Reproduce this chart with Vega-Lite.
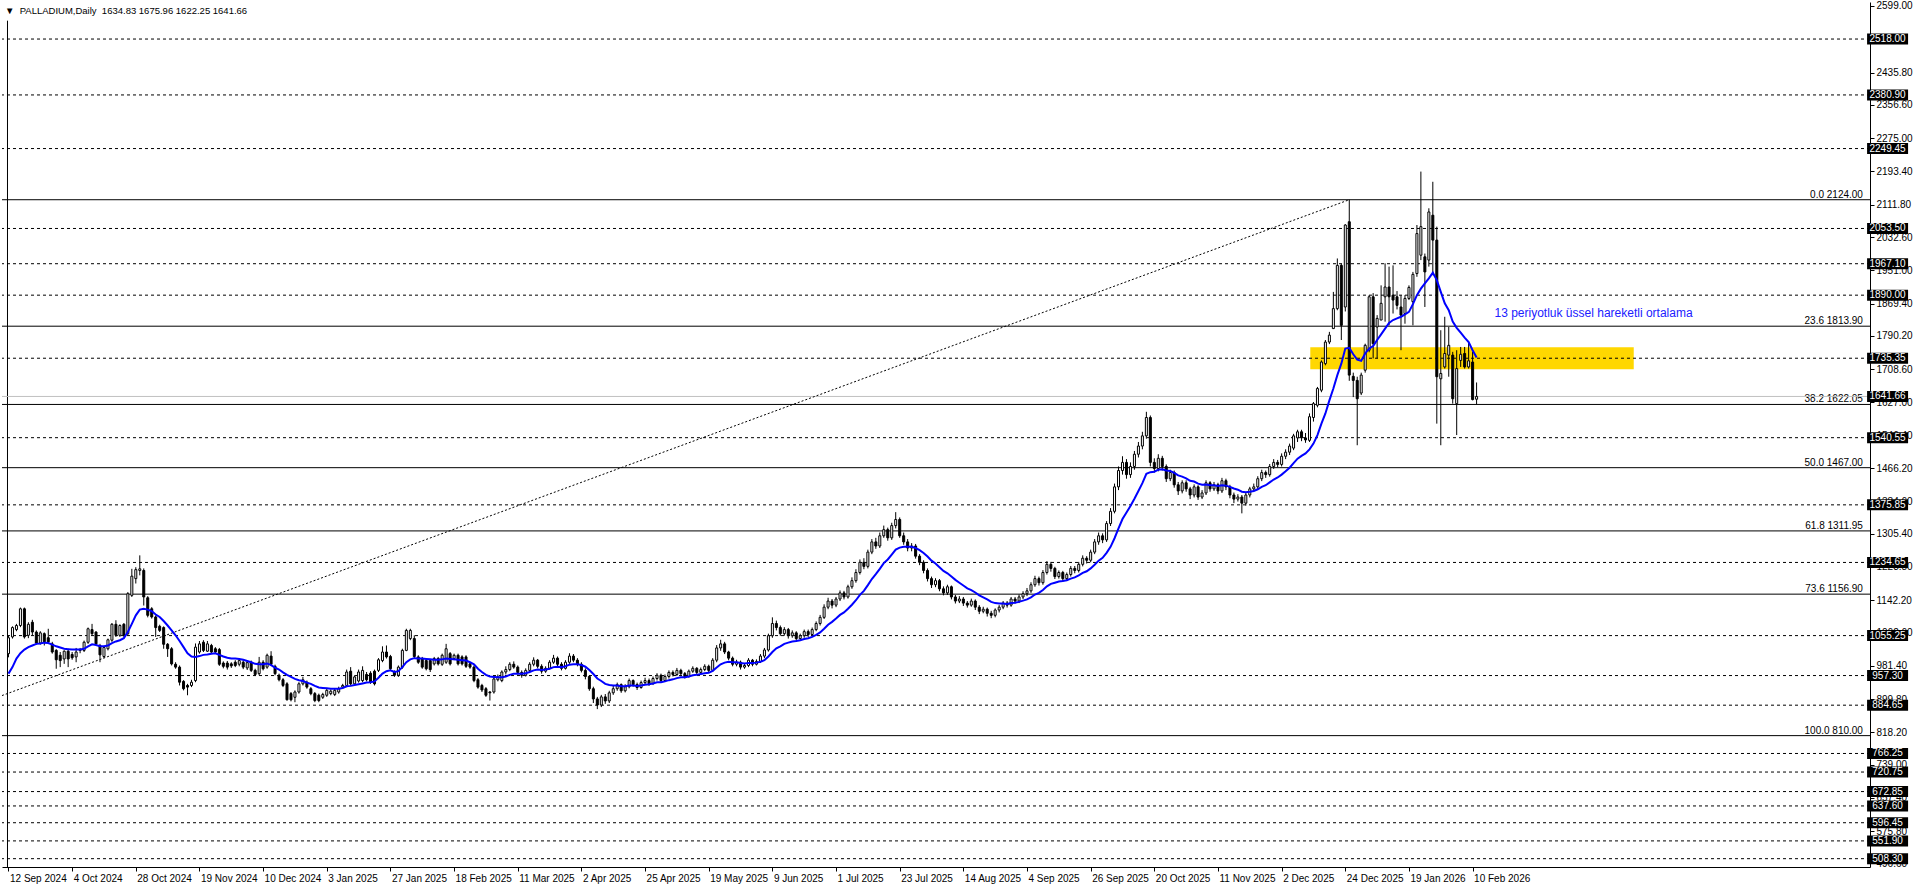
{
"$schema":"https://vega.github.io/schema/vega-lite/v6.json",
"width":1868,"height":865,
"autosize":{"type":"none"},
"padding":{"left":2,"top":2,"right":46,"bottom":21},
"background":"white",
"config":{"view":{"stroke":null},"font":"Liberation Sans"},
"title":{"text":"▼\u00a0\u00a0PALLADIUM,Daily\u00a0\u00a01634.83 1675.96 1622.25 1641.66","anchor":"start","frame":"group","orient":"top","offset":-13,"dx":3,"dy":10,"baseline":"alphabetic","fontSize":9.5,"font":"Liberation Sans","fontWeight":"normal","color":"black"},
"datasets":{
"bars":[
{"o":1011,"h":1056,"l":1002,"c":1050,"e":962},{"o":1052,"h":1078,"l":1048,"c":1075,"e":978},{"o":1070,"h":1084,"l":1066,"c":1080,"e":999},{"o":1080,"h":1124,"l":1076,"c":1121,"e":1012},{"o":1121,"h":1124,"l":1048,"c":1052,"e":1021},
{"o":1056,"h":1088,"l":1049,"c":1083,"e":1027},{"o":1088,"h":1094,"l":1056,"c":1064,"e":1031},{"o":1064,"h":1068,"l":1033,"c":1037,"e":1035},{"o":1037,"h":1066,"l":1033,"c":1062,"e":1036},{"o":1060,"h":1063,"l":1031,"c":1040,"e":1038},
{"o":1050,"h":1072,"l":1035,"c":1040,"e":1037},{"o":1035,"h":1040,"l":1011,"c":1015,"e":1033},{"o":1019,"h":1022,"l":974,"c":996,"e":1029},{"o":1007,"h":1015,"l":978,"c":994,"e":1026},{"o":998,"h":1019,"l":986,"c":1017,"e":1023},
{"o":1017,"h":1023,"l":978,"c":998,"e":1022},{"o":1009,"h":1015,"l":996,"c":1001,"e":1021},{"o":1003,"h":1025,"l":990,"c":1015,"e":1021},{"o":1021,"h":1025,"l":1012,"c":1019,"e":1021},{"o":1019,"h":1043,"l":1015,"c":1039,"e":1023},
{"o":1039,"h":1075,"l":1035,"c":1072,"e":1029},{"o":1070,"h":1084,"l":1056,"c":1060,"e":1034},{"o":1064,"h":1066,"l":1031,"c":1035,"e":1032},{"o":1031,"h":1035,"l":990,"c":1008,"e":1029},{"o":1004,"h":1030,"l":1000,"c":1026,"e":1029},
{"o":1023,"h":1048,"l":1019,"c":1045,"e":1031},{"o":1044,"h":1086,"l":1040,"c":1083,"e":1037},{"o":1083,"h":1093,"l":1052,"c":1056,"e":1041},{"o":1056,"h":1083,"l":1052,"c":1080,"e":1044},{"o":1083,"h":1086,"l":1052,"c":1056,"e":1049},
{"o":1060,"h":1162,"l":1056,"c":1158,"e":1064},{"o":1154,"h":1219,"l":1150,"c":1201,"e":1084},{"o":1195,"h":1223,"l":1183,"c":1217,"e":1105},{"o":1215,"h":1252,"l":1203,"c":1219,"e":1119},{"o":1215,"h":1220,"l":1129,"c":1150,"e":1121},
{"o":1148,"h":1152,"l":1100,"c":1105,"e":1119},{"o":1121,"h":1125,"l":1097,"c":1101,"e":1115},{"o":1101,"h":1105,"l":1052,"c":1075,"e":1107},{"o":1078,"h":1082,"l":1064,"c":1068,"e":1101},{"o":1075,"h":1078,"l":1023,"c":1034,"e":1091},
{"o":1034,"h":1037,"l":1003,"c":1023,"e":1080},{"o":1023,"h":1027,"l":982,"c":986,"e":1068},{"o":985,"h":990,"l":974,"c":978,"e":1056},{"o":978,"h":982,"l":933,"c":941,"e":1042},{"o":943,"h":946,"l":921,"c":925,"e":1027},
{"o":933,"h":937,"l":909,"c":929,"e":1012},{"o":933,"h":947,"l":929,"c":941,"e":1004},{"o":945,"h":1036,"l":941,"c":1027,"e":1003},{"o":1015,"h":1042,"l":1011,"c":1035,"e":1005},{"o":1039,"h":1044,"l":1015,"c":1019,"e":1008},
{"o":1017,"h":1042,"l":1015,"c":1035,"e":1009},{"o":1031,"h":1035,"l":1011,"c":1015,"e":1011},{"o":1023,"h":1027,"l":1011,"c":1015,"e":1012},{"o":1021,"h":1025,"l":981,"c":985,"e":1008},{"o":988,"h":992,"l":975,"c":980,"e":1004},
{"o":988,"h":993,"l":972,"c":978,"e":1001},{"o":986,"h":990,"l":976,"c":981,"e":999},{"o":990,"h":995,"l":978,"c":982,"e":999},{"o":985,"h":998,"l":980,"c":994,"e":998},{"o":990,"h":995,"l":973,"c":978,"e":996},
{"o":976,"h":994,"l":971,"c":989,"e":993},{"o":990,"h":994,"l":966,"c":970,"e":990},{"o":970,"h":974,"l":956,"c":960,"e":986},{"o":962,"h":1003,"l":958,"c":990,"e":985},{"o":990,"h":995,"l":970,"c":974,"e":985},
{"o":978,"h":1011,"l":974,"c":1007,"e":987},{"o":1005,"h":1017,"l":981,"c":985,"e":983},{"o":980,"h":984,"l":958,"c":962,"e":977},{"o":958,"h":962,"l":943,"c":947,"e":972},{"o":947,"h":951,"l":929,"c":933,"e":965},
{"o":937,"h":941,"l":896,"c":898,"e":959},{"o":913,"h":917,"l":894,"c":898,"e":954},{"o":904,"h":921,"l":892,"c":917,"e":949},{"o":917,"h":941,"l":913,"c":937,"e":946},{"o":937,"h":954,"l":933,"c":947,"e":944},
{"o":941,"h":945,"l":925,"c":929,"e":940},{"o":925,"h":929,"l":909,"c":913,"e":937},{"o":913,"h":917,"l":892,"c":896,"e":932},{"o":909,"h":913,"l":892,"c":896,"e":928},{"o":904,"h":915,"l":900,"c":911,"e":927},
{"o":909,"h":925,"l":905,"c":921,"e":926},{"o":913,"h":923,"l":909,"c":919,"e":925},{"o":911,"h":925,"l":907,"c":921,"e":925},{"o":917,"h":930,"l":913,"c":925,"e":925},{"o":929,"h":937,"l":925,"c":933,"e":927},
{"o":933,"h":972,"l":929,"c":966,"e":931},{"o":968,"h":978,"l":933,"c":937,"e":932},{"o":937,"h":958,"l":933,"c":954,"e":934},{"o":944,"h":972,"l":940,"c":966,"e":936},{"o":945,"h":980,"l":941,"c":970,"e":938},
{"o":960,"h":966,"l":943,"c":947,"e":940},{"o":963,"h":968,"l":937,"c":941,"e":941},{"o":968,"h":972,"l":933,"c":937,"e":943},{"o":970,"h":1000,"l":966,"c":996,"e":952},{"o":994,"h":1029,"l":990,"c":1015,"e":962},
{"o":1015,"h":1031,"l":999,"c":1003,"e":968},{"o":1004,"h":1008,"l":970,"c":974,"e":970},{"o":966,"h":970,"l":954,"c":958,"e":966},{"o":958,"h":982,"l":954,"c":978,"e":968},{"o":978,"h":1023,"l":974,"c":1019,"e":978},
{"o":1019,"h":1072,"l":1017,"c":1068,"e":990},{"o":1048,"h":1072,"l":1044,"c":1068,"e":997},{"o":1048,"h":1056,"l":999,"c":1004,"e":1000},{"o":1003,"h":1007,"l":986,"c":990,"e":999},{"o":999,"h":1003,"l":974,"c":978,"e":999},
{"o":994,"h":998,"l":970,"c":974,"e":998},{"o":994,"h":998,"l":966,"c":972,"e":997},{"o":986,"h":1003,"l":982,"c":999,"e":996},{"o":999,"h":1003,"l":982,"c":986,"e":996},{"o":985,"h":1011,"l":981,"c":1007,"e":997},
{"o":990,"h":1035,"l":986,"c":1023,"e":999},{"o":1011,"h":1015,"l":982,"c":986,"e":998},{"o":999,"h":1011,"l":995,"c":1007,"e":997},{"o":1007,"h":1011,"l":982,"c":986,"e":996},{"o":1003,"h":1007,"l":982,"c":986,"e":995},
{"o":1003,"h":1007,"l":976,"c":980,"e":994},{"o":986,"h":990,"l":974,"c":978,"e":990},{"o":978,"h":982,"l":941,"c":945,"e":985},{"o":947,"h":951,"l":925,"c":929,"e":974},{"o":933,"h":937,"l":917,"c":922,"e":966},
{"o":925,"h":929,"l":905,"c":909,"e":959},{"o":917,"h":919,"l":896,"c":915,"e":955},{"o":917,"h":953,"l":913,"c":949,"e":954},{"o":947,"h":960,"l":943,"c":954,"e":953},{"o":945,"h":970,"l":941,"c":966,"e":953},
{"o":966,"h":980,"l":960,"c":972,"e":955},{"o":972,"h":990,"l":968,"c":985,"e":959},{"o":985,"h":992,"l":974,"c":978,"e":962},{"o":978,"h":982,"l":960,"c":965,"e":962},{"o":965,"h":970,"l":952,"c":958,"e":962},
{"o":958,"h":975,"l":955,"c":970,"e":963},{"o":970,"h":990,"l":966,"c":985,"e":966},{"o":985,"h":1002,"l":980,"c":995,"e":970},{"o":995,"h":998,"l":975,"c":980,"e":972},{"o":980,"h":985,"l":962,"c":968,"e":971},
{"o":968,"h":980,"l":964,"c":975,"e":972},{"o":975,"h":995,"l":972,"c":990,"e":974},{"o":990,"h":1008,"l":986,"c":1000,"e":978},{"o":1000,"h":1004,"l":980,"c":985,"e":979},{"o":985,"h":990,"l":970,"c":975,"e":978},
{"o":975,"h":995,"l":972,"c":990,"e":980},{"o":990,"h":1012,"l":986,"c":1005,"e":984},{"o":1005,"h":1010,"l":990,"c":995,"e":985},{"o":995,"h":1000,"l":980,"c":985,"e":985},{"o":985,"h":990,"l":965,"c":970,"e":983},
{"o":970,"h":975,"l":948,"c":955,"e":979},{"o":955,"h":958,"l":920,"c":925,"e":971},{"o":925,"h":930,"l":890,"c":900,"e":961},{"o":900,"h":905,"l":875,"c":885,"e":950},{"o":885,"h":910,"l":880,"c":905,"e":944},
{"o":905,"h":912,"l":888,"c":895,"e":937},{"o":895,"h":920,"l":890,"c":915,"e":934},{"o":915,"h":932,"l":910,"c":925,"e":933},{"o":925,"h":940,"l":920,"c":935,"e":933},{"o":935,"h":938,"l":915,"c":920,"e":931},
{"o":920,"h":936,"l":916,"c":930,"e":931},{"o":930,"h":950,"l":926,"c":945,"e":933},{"o":945,"h":948,"l":930,"c":935,"e":933},{"o":935,"h":940,"l":922,"c":928,"e":932},{"o":928,"h":945,"l":925,"c":940,"e":933},
{"o":940,"h":952,"l":935,"c":945,"e":935},{"o":945,"h":950,"l":932,"c":938,"e":936},{"o":938,"h":955,"l":934,"c":950,"e":938},{"o":950,"h":963,"l":945,"c":958,"e":941},{"o":958,"h":962,"l":940,"c":945,"e":941},
{"o":945,"h":960,"l":942,"c":955,"e":943},{"o":955,"h":970,"l":950,"c":965,"e":946},{"o":965,"h":970,"l":955,"c":960,"e":948},{"o":960,"h":976,"l":956,"c":970,"e":951},{"o":970,"h":974,"l":958,"c":962,"e":953},
{"o":962,"h":966,"l":950,"c":955,"e":953},{"o":955,"h":972,"l":952,"c":968,"e":955},{"o":968,"h":980,"l":964,"c":975,"e":958},{"o":975,"h":978,"l":960,"c":965,"e":959},{"o":965,"h":977,"l":962,"c":972,"e":961},
{"o":972,"h":985,"l":968,"c":980,"e":963},{"o":980,"h":984,"l":965,"c":970,"e":964},{"o":970,"h":1000,"l":966,"c":995,"e":969},{"o":995,"h":1032,"l":990,"c":1025,"e":977},{"o":1025,"h":1045,"l":1018,"c":1035,"e":985},
{"o":1035,"h":1040,"l":1010,"c":1015,"e":989},{"o":1015,"h":1018,"l":995,"c":1000,"e":991},{"o":1000,"h":1004,"l":980,"c":985,"e":990},{"o":985,"h":996,"l":980,"c":990,"e":990},{"o":990,"h":994,"l":972,"c":978,"e":988},
{"o":978,"h":988,"l":974,"c":982,"e":987},{"o":982,"h":1000,"l":978,"c":995,"e":988},{"o":995,"h":998,"l":980,"c":985,"e":988},{"o":985,"h":997,"l":982,"c":992,"e":989},{"o":992,"h":1010,"l":988,"c":1005,"e":991},
{"o":1005,"h":1025,"l":1000,"c":1020,"e":995},{"o":1020,"h":1060,"l":1016,"c":1055,"e":1004},{"o":1055,"h":1100,"l":1050,"c":1085,"e":1015},{"o":1085,"h":1092,"l":1068,"c":1075,"e":1024},{"o":1075,"h":1080,"l":1055,"c":1060,"e":1029},
{"o":1060,"h":1076,"l":1055,"c":1070,"e":1035},{"o":1070,"h":1074,"l":1048,"c":1055,"e":1038},{"o":1055,"h":1068,"l":1050,"c":1062,"e":1041},{"o":1062,"h":1066,"l":1042,"c":1048,"e":1042},{"o":1048,"h":1060,"l":1044,"c":1055,"e":1044},
{"o":1055,"h":1070,"l":1050,"c":1065,"e":1047},{"o":1065,"h":1070,"l":1052,"c":1058,"e":1049},{"o":1058,"h":1075,"l":1054,"c":1070,"e":1052},{"o":1070,"h":1090,"l":1066,"c":1085,"e":1057},{"o":1085,"h":1106,"l":1080,"c":1100,"e":1063},
{"o":1100,"h":1132,"l":1096,"c":1125,"e":1072},{"o":1125,"h":1148,"l":1120,"c":1140,"e":1082},{"o":1140,"h":1145,"l":1122,"c":1130,"e":1089},{"o":1130,"h":1150,"l":1125,"c":1145,"e":1097},{"o":1145,"h":1166,"l":1140,"c":1160,"e":1106},
{"o":1160,"h":1165,"l":1144,"c":1150,"e":1112},{"o":1150,"h":1180,"l":1146,"c":1175,"e":1121},{"o":1175,"h":1198,"l":1170,"c":1190,"e":1131},{"o":1190,"h":1218,"l":1185,"c":1210,"e":1142},{"o":1210,"h":1242,"l":1205,"c":1235,"e":1155},
{"o":1235,"h":1245,"l":1218,"c":1225,"e":1165},{"o":1225,"h":1266,"l":1220,"c":1260,"e":1179},{"o":1260,"h":1292,"l":1255,"c":1285,"e":1194},{"o":1285,"h":1295,"l":1268,"c":1275,"e":1206},{"o":1275,"h":1308,"l":1270,"c":1300,"e":1219},
{"o":1300,"h":1325,"l":1295,"c":1315,"e":1233},{"o":1315,"h":1320,"l":1288,"c":1295,"e":1242},{"o":1295,"h":1332,"l":1290,"c":1325,"e":1254},{"o":1325,"h":1358,"l":1318,"c":1340,"e":1266},{"o":1340,"h":1345,"l":1295,"c":1300,"e":1271},
{"o":1300,"h":1308,"l":1278,"c":1285,"e":1273},{"o":1285,"h":1292,"l":1262,"c":1270,"e":1273},{"o":1270,"h":1282,"l":1262,"c":1275,"e":1273},{"o":1275,"h":1280,"l":1244,"c":1250,"e":1270},{"o":1250,"h":1255,"l":1228,"c":1235,"e":1265},
{"o":1235,"h":1240,"l":1208,"c":1215,"e":1258},{"o":1215,"h":1220,"l":1188,"c":1195,"e":1249},{"o":1195,"h":1200,"l":1172,"c":1180,"e":1239},{"o":1180,"h":1196,"l":1174,"c":1190,"e":1232},{"o":1190,"h":1194,"l":1164,"c":1170,"e":1223},
{"o":1170,"h":1176,"l":1154,"c":1160,"e":1214},{"o":1160,"h":1180,"l":1155,"c":1175,"e":1208},{"o":1175,"h":1178,"l":1144,"c":1150,"e":1200},{"o":1150,"h":1155,"l":1134,"c":1140,"e":1192},{"o":1140,"h":1152,"l":1135,"c":1145,"e":1185},
{"o":1145,"h":1150,"l":1128,"c":1135,"e":1178},{"o":1135,"h":1140,"l":1124,"c":1130,"e":1171},{"o":1130,"h":1146,"l":1126,"c":1140,"e":1167},{"o":1140,"h":1144,"l":1118,"c":1125,"e":1161},{"o":1125,"h":1130,"l":1108,"c":1115,"e":1154},
{"o":1115,"h":1126,"l":1110,"c":1120,"e":1149},{"o":1120,"h":1124,"l":1102,"c":1110,"e":1144},{"o":1110,"h":1116,"l":1098,"c":1105,"e":1138},{"o":1105,"h":1122,"l":1100,"c":1118,"e":1135},{"o":1118,"h":1130,"l":1112,"c":1125,"e":1134},
{"o":1125,"h":1140,"l":1120,"c":1135,"e":1134},{"o":1135,"h":1140,"l":1124,"c":1130,"e":1133},{"o":1130,"h":1150,"l":1126,"c":1145,"e":1135},{"o":1145,"h":1150,"l":1134,"c":1140,"e":1136},{"o":1140,"h":1156,"l":1135,"c":1150,"e":1138},
{"o":1150,"h":1164,"l":1145,"c":1158,"e":1141},{"o":1158,"h":1172,"l":1152,"c":1165,"e":1144},{"o":1165,"h":1186,"l":1160,"c":1180,"e":1149},{"o":1180,"h":1202,"l":1175,"c":1195,"e":1156},{"o":1195,"h":1200,"l":1178,"c":1185,"e":1160},
{"o":1185,"h":1216,"l":1180,"c":1210,"e":1167},{"o":1210,"h":1238,"l":1205,"c":1230,"e":1176},{"o":1230,"h":1236,"l":1212,"c":1220,"e":1182},{"o":1220,"h":1224,"l":1194,"c":1200,"e":1185},{"o":1200,"h":1215,"l":1195,"c":1210,"e":1188},
{"o":1210,"h":1214,"l":1188,"c":1195,"e":1189},{"o":1195,"h":1210,"l":1190,"c":1205,"e":1191},{"o":1205,"h":1226,"l":1200,"c":1220,"e":1195},{"o":1220,"h":1226,"l":1208,"c":1215,"e":1198},{"o":1215,"h":1236,"l":1210,"c":1230,"e":1203},
{"o":1230,"h":1252,"l":1225,"c":1245,"e":1209},{"o":1245,"h":1250,"l":1232,"c":1240,"e":1213},{"o":1240,"h":1266,"l":1235,"c":1260,"e":1220},{"o":1260,"h":1292,"l":1255,"c":1285,"e":1229},{"o":1285,"h":1308,"l":1278,"c":1300,"e":1239},
{"o":1300,"h":1306,"l":1282,"c":1290,"e":1246},{"o":1290,"h":1336,"l":1285,"c":1330,"e":1258},{"o":1330,"h":1368,"l":1324,"c":1360,"e":1273},{"o":1360,"h":1428,"l":1355,"c":1420,"e":1294},{"o":1420,"h":1470,"l":1412,"c":1460,"e":1318},
{"o":1460,"h":1495,"l":1450,"c":1480,"e":1341},{"o":1480,"h":1488,"l":1440,"c":1450,"e":1357},{"o":1450,"h":1480,"l":1442,"c":1470,"e":1373},{"o":1470,"h":1508,"l":1462,"c":1500,"e":1391},{"o":1500,"h":1530,"l":1492,"c":1520,"e":1410},
{"o":1520,"h":1555,"l":1512,"c":1545,"e":1429},{"o":1545,"h":1604,"l":1538,"c":1590,"e":1452},{"o":1590,"h":1595,"l":1470,"c":1480,"e":1456},{"o":1480,"h":1490,"l":1455,"c":1465,"e":1457},{"o":1465,"h":1500,"l":1458,"c":1490,"e":1462},
{"o":1490,"h":1496,"l":1460,"c":1470,"e":1463},{"o":1470,"h":1475,"l":1432,"c":1440,"e":1460},{"o":1440,"h":1462,"l":1434,"c":1455,"e":1459},{"o":1455,"h":1460,"l":1418,"c":1425,"e":1454},{"o":1425,"h":1432,"l":1400,"c":1410,"e":1448},
{"o":1410,"h":1436,"l":1404,"c":1430,"e":1445},{"o":1430,"h":1436,"l":1408,"c":1415,"e":1441},{"o":1415,"h":1420,"l":1390,"c":1400,"e":1435},{"o":1400,"h":1426,"l":1394,"c":1420,"e":1433},{"o":1420,"h":1424,"l":1388,"c":1395,"e":1428},
{"o":1395,"h":1412,"l":1390,"c":1405,"e":1425},{"o":1405,"h":1436,"l":1400,"c":1430,"e":1426},{"o":1430,"h":1434,"l":1408,"c":1415,"e":1424},{"o":1415,"h":1432,"l":1410,"c":1425,"e":1424},{"o":1425,"h":1430,"l":1402,"c":1410,"e":1422},
{"o":1410,"h":1442,"l":1405,"c":1435,"e":1424},{"o":1435,"h":1440,"l":1412,"c":1420,"e":1423},{"o":1420,"h":1425,"l":1392,"c":1400,"e":1420},{"o":1400,"h":1406,"l":1380,"c":1390,"e":1416},{"o":1390,"h":1402,"l":1384,"c":1395,"e":1413},
{"o":1395,"h":1400,"l":1355,"c":1380,"e":1408},{"o":1380,"h":1406,"l":1374,"c":1400,"e":1407},{"o":1400,"h":1420,"l":1394,"c":1415,"e":1408},{"o":1415,"h":1428,"l":1410,"c":1420,"e":1410},{"o":1420,"h":1446,"l":1414,"c":1440,"e":1414},
{"o":1440,"h":1462,"l":1434,"c":1455,"e":1420},{"o":1455,"h":1460,"l":1442,"c":1450,"e":1424},{"o":1450,"h":1476,"l":1445,"c":1470,"e":1431},{"o":1470,"h":1488,"l":1464,"c":1480,"e":1438},{"o":1480,"h":1486,"l":1468,"c":1475,"e":1443},
{"o":1475,"h":1502,"l":1470,"c":1495,"e":1450},{"o":1495,"h":1512,"l":1488,"c":1505,"e":1458},{"o":1505,"h":1526,"l":1498,"c":1520,"e":1467},{"o":1515,"h":1550,"l":1510,"c":1545,"e":1478},{"o":1540,"h":1560,"l":1530,"c":1555,"e":1489},
{"o":1555,"h":1560,"l":1532,"c":1540,"e":1496},{"o":1540,"h":1552,"l":1528,"c":1535,"e":1502},{"o":1534,"h":1600,"l":1530,"c":1592,"e":1512},{"o":1590,"h":1628,"l":1580,"c":1624,"e":1526},{"o":1620,"h":1665,"l":1615,"c":1661,"e":1547},
{"o":1657,"h":1730,"l":1652,"c":1726,"e":1575},{"o":1722,"h":1780,"l":1718,"c":1775,"e":1600},{"o":1775,"h":1800,"l":1770,"c":1792,"e":1632},{"o":1808,"h":1898,"l":1808,"c":1857,"e":1661},{"o":1857,"h":1980,"l":1853,"c":1963,"e":1694},
{"o":1963,"h":1967,"l":1780,"c":1816,"e":1722},{"o":1861,"h":2064,"l":1850,"c":2062,"e":1759},{"o":2070,"h":2124,"l":1680,"c":1694,"e":1761},{"o":1691,"h":1700,"l":1640,"c":1681,"e":1745},{"o":1681,"h":1690,"l":1522,"c":1636,"e":1732},
{"o":1650,"h":1700,"l":1645,"c":1694,"e":1729},{"o":1706,"h":1771,"l":1700,"c":1767,"e":1747},{"o":1755,"h":1890,"l":1750,"c":1886,"e":1759},{"o":1886,"h":1895,"l":1735,"c":1771,"e":1765},{"o":1812,"h":1841,"l":1735,"c":1833,"e":1780},
{"o":1829,"h":1914,"l":1829,"c":1870,"e":1794},{"o":1886,"h":1968,"l":1825,"c":1910,"e":1808},{"o":1910,"h":1960,"l":1816,"c":1886,"e":1822},{"o":1890,"h":1963,"l":1845,"c":1878,"e":1829},{"o":1886,"h":1900,"l":1855,"c":1865,"e":1833},
{"o":1861,"h":1890,"l":1755,"c":1841,"e":1837},{"o":1845,"h":1890,"l":1820,"c":1882,"e":1843},{"o":1882,"h":1914,"l":1878,"c":1909,"e":1849},{"o":1874,"h":1947,"l":1816,"c":1941,"e":1868},{"o":1943,"h":2062,"l":1935,"c":2041,"e":1890},
{"o":1988,"h":2193,"l":1976,"c":2058,"e":1906},{"o":1984,"h":1992,"l":1861,"c":1947,"e":1919},{"o":1976,"h":2103,"l":1960,"c":2094,"e":1931},{"o":2086,"h":2168,"l":1939,"c":2025,"e":1945},{"o":2025,"h":2058,"l":1575,"c":1690,"e":1927},
{"o":1685,"h":1804,"l":1522,"c":1698,"e":1898},{"o":1714,"h":1837,"l":1710,"c":1747,"e":1870},{"o":1743,"h":1812,"l":1690,"c":1767,"e":1853},{"o":1743,"h":1751,"l":1624,"c":1636,"e":1825},{"o":1624,"h":1755,"l":1547,"c":1710,"e":1810},
{"o":1730,"h":1763,"l":1714,"c":1745,"e":1798},{"o":1747,"h":1763,"l":1710,"c":1714,"e":1786},{"o":1714,"h":1776,"l":1710,"c":1729,"e":1775},{"o":1726,"h":1751,"l":1632,"c":1634,"e":1755},{"o":1634.83,"h":1675.96,"l":1622.25,"c":1641.66,"e":1737}
],
"levels":[{"p":2518.00},{"p":2380.90},{"p":2249.45},{"p":2053.50},{"p":1967.10},{"p":1890.00},{"p":1735.35},{"p":1540.55},{"p":1375.85},{"p":1234.65},{"p":1055.25},{"p":957.30},{"p":884.65},{"p":766.25},{"p":720.75},{"p":672.85},{"p":637.60},{"p":596.45},{"p":551.90},{"p":508.30}],
"tags":[{"p":2518.00},{"p":2380.90},{"p":2249.45},{"p":2053.50},{"p":1967.10},{"p":1890.00},{"p":1735.35},{"p":1641.66},{"p":1540.55},{"p":1375.85},{"p":1234.65},{"p":1055.25},{"p":957.30},{"p":884.65},{"p":766.25},{"p":720.75},{"p":672.85},{"p":637.60},{"p":596.45},{"p":551.90},{"p":508.30}],
"fib":[{"t":"0.0 2124.00","p":2124.00},{"t":"23.6 1813.90","p":1813.90},{"t":"38.2 1622.05","p":1622.05},{"t":"50.0 1467.00","p":1467.00},{"t":"61.8 1311.95","p":1311.95},{"t":"73.6 1156.90","p":1156.90},{"t":"100.0 810.00","p":810.00}],
"zone":[{"i1":328.2,"i2":409.5,"p1":1708.5,"p2":1762.5}],
"trend":[{"i1":-28,"p1":810,"i2":338,"p2":2124}],
"bid":[{"p":1641.66}],
"note":[{"t":"13 periyotluk üssel hareketli ortalama","i":374.5,"p":1836}]
},
"layer":[
{"data":{"name":"zone"},"mark":{"type":"rect","color":"#FFD700","opacity":1},
 "encoding":{
  "x":{"field":"i1","type":"quantitative","scale":{"domain":[0.625,467.625],"nice":false,"zero":false},
   "axis":{"orient":"bottom","title":null,"grid":false,"values":[1,17,33,49,65,81,97,113,129,145,161,177,193,209,225,241,257,273,289,305,321,337,353,369],"tickCount":60,
    "labelExpr":"['12 Sep 2024','4 Oct 2024','28 Oct 2024','19 Nov 2024','10 Dec 2024','3 Jan 2025','27 Jan 2025','18 Feb 2025','11 Mar 2025','2 Apr 2025','25 Apr 2025','19 May 2025','9 Jun 2025','1 Jul 2025','23 Jul 2025','14 Aug 2025','4 Sep 2025','26 Sep 2025','20 Oct 2025','11 Nov 2025','2 Dec 2025','24 Dec 2025','19 Jan 2026','10 Feb 2026'][(datum.value-1)/16]",
    "domainColor":"black","tickColor":"black","tickSize":4,"labelAlign":"left","labelBaseline":"top","labelPadding":2,"labelOffset":1,"labelFont":"Liberation Sans","labelFontSize":10,"labelColor":"black","labelOverlap":false,"labelBound":false,"labelFlush":false}},
  "x2":{"field":"i2"},
  "y":{"field":"p1","type":"quantitative","scale":{"domain":[487.9,2608.8],"nice":false,"zero":false},
   "axis":{"orient":"right","title":null,"grid":false,"values":[2599.0,2435.8,2356.6,2275.0,2193.4,2111.8,2032.6,1951.0,1869.4,1790.2,1708.6,1627.0,1546.4,1466.2,1384.6,1305.4,1223.8,1142.2,1062.6,981.4,899.8,818.2,739.0,657.4,575.8,496.6],"tickCount":60,
    "format":".2f","domainColor":"black","tickColor":"black","tickSize":4,"labelPadding":2,"labelFont":"Liberation Sans","labelFontSize":10,"labelColor":"black","labelOverlap":false,"labelBound":false,"labelFlush":false}},
  "y2":{"field":"p2"}}},
{"data":{"values":[{}]},"mark":{"type":"rule","color":"black","strokeWidth":1},
 "encoding":{"x":{"datum":0.75,"type":"quantitative","scale":{"domain":[0.625,467.625],"nice":false,"zero":false}},
  "y":{"datum":2563,"type":"quantitative","scale":{"domain":[487.9,2608.8],"nice":false,"zero":false}},"y2":{"datum":487.9}}},
{"data":{"name":"levels"},"mark":{"type":"rule","color":"black","strokeWidth":1,"strokeDash":[3,3]},
 "encoding":{"y":{"field":"p","type":"quantitative","scale":{"domain":[487.9,2608.8],"nice":false,"zero":false}}}},
{"data":{"name":"fib"},"mark":{"type":"rule","color":"black","strokeWidth":1},
 "encoding":{"y":{"field":"p","type":"quantitative","scale":{"domain":[487.9,2608.8],"nice":false,"zero":false}}}},
{"data":{"name":"fib"},"mark":{"type":"text","align":"right","baseline":"alphabetic","dy":-2,"font":"Liberation Sans","fontSize":10,"color":"black"},
 "encoding":{"x":{"datum":467.1,"type":"quantitative","scale":{"domain":[0.625,467.625],"nice":false,"zero":false}},
  "y":{"field":"p","type":"quantitative","scale":{"domain":[487.9,2608.8],"nice":false,"zero":false}},"text":{"field":"t"}}},
{"data":{"name":"bid"},"mark":{"type":"rule","color":"#c0c0c0","strokeWidth":1},
 "encoding":{"y":{"field":"p","type":"quantitative","scale":{"domain":[487.9,2608.8],"nice":false,"zero":false}}}},
{"data":{"name":"trend"},"mark":{"type":"rule","color":"black","strokeWidth":1,"strokeDash":[2,2],"clip":true},
 "encoding":{"x":{"field":"i1","type":"quantitative","scale":{"domain":[0.625,467.625],"nice":false,"zero":false}},"x2":{"field":"i2"},
  "y":{"field":"p1","type":"quantitative","scale":{"domain":[487.9,2608.8],"nice":false,"zero":false}},"y2":{"field":"p2"}}},
{"data":{"name":"bars"},
 "transform":[{"window":[{"op":"row_number","as":"i"}]}],
 "layer":[
  {"mark":{"type":"rule","color":"black","strokeWidth":1},
   "encoding":{"x":{"field":"i","type":"quantitative","scale":{"domain":[0.625,467.625],"nice":false,"zero":false}},
    "y":{"field":"l","type":"quantitative","scale":{"domain":[487.9,2608.8],"nice":false,"zero":false}},"y2":{"field":"h"}}},
  {"transform":[{"filter":"datum.c >= datum.o"}],"mark":{"type":"bar","size":2,"fill":"white","stroke":"black","strokeWidth":1,"opacity":1},
   "encoding":{"x":{"field":"i","type":"quantitative","scale":{"domain":[0.625,467.625],"nice":false,"zero":false}},
    "y":{"field":"o","type":"quantitative","scale":{"domain":[487.9,2608.8],"nice":false,"zero":false}},"y2":{"field":"c"}}},
  {"transform":[{"filter":"datum.c < datum.o"}],"mark":{"type":"bar","size":2,"fill":"black","stroke":"black","strokeWidth":1,"opacity":1},
   "encoding":{"x":{"field":"i","type":"quantitative","scale":{"domain":[0.625,467.625],"nice":false,"zero":false}},
    "y":{"field":"o","type":"quantitative","scale":{"domain":[487.9,2608.8],"nice":false,"zero":false}},"y2":{"field":"c"}}},
  {"mark":{"type":"line","color":"#0000ff","strokeWidth":2},
   "encoding":{"x":{"field":"i","type":"quantitative","scale":{"domain":[0.625,467.625],"nice":false,"zero":false}},
    "y":{"field":"e","type":"quantitative","scale":{"domain":[487.9,2608.8],"nice":false,"zero":false}}}}
 ]},
{"data":{"name":"note"},"mark":{"type":"text","align":"left","baseline":"alphabetic","font":"Liberation Sans","fontSize":12,"color":"#2020ff"},
 "encoding":{"x":{"field":"i","type":"quantitative","scale":{"domain":[0.625,467.625],"nice":false,"zero":false}},
  "y":{"field":"p","type":"quantitative","scale":{"domain":[487.9,2608.8],"nice":false,"zero":false}},"text":{"field":"t"}}},
{"data":{"name":"tags"},"mark":{"type":"tick","orient":"horizontal","size":41,"thickness":11,"color":"black","opacity":1},
 "encoding":{"x":{"datum":473.3,"type":"quantitative","scale":{"domain":[0.625,467.625],"nice":false,"zero":false}},
  "y":{"field":"p","type":"quantitative","scale":{"domain":[487.9,2608.8],"nice":false,"zero":false}}}},
{"data":{"name":"tags"},"mark":{"type":"text","align":"center","baseline":"middle","font":"Liberation Sans","fontSize":10,"color":"white"},
 "encoding":{"x":{"datum":473.3,"type":"quantitative","scale":{"domain":[0.625,467.625],"nice":false,"zero":false}},
  "y":{"field":"p","type":"quantitative","scale":{"domain":[487.9,2608.8],"nice":false,"zero":false}},"text":{"field":"p","type":"quantitative","format":".2f"}}}
]
}
